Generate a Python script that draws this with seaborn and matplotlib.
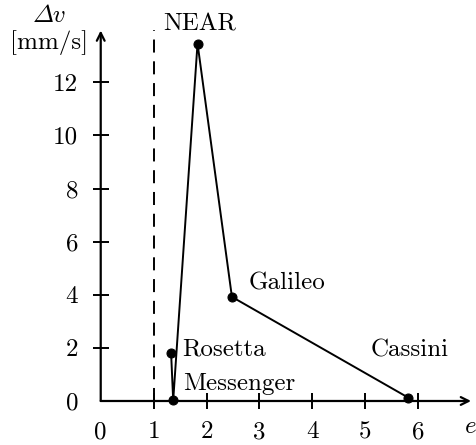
import pandas as pd
import seaborn as sns
import matplotlib.pyplot as plt

# flyby data
missions = ["Rosetta", "Messenger", "NEAR", "Galileo", "Cassini"]
ecc = [1.33, 1.37, 1.83, 2.48, 5.81]
dv = [1.82, 0.02, 13.46, 3.92, 0.13]

x_ticks = [1, 2, 3, 4, 5, 6]
y_ticks = [2, 4, 6, 8, 10, 12]

# label offsets (points) from each marker
label_offsets = {
    "Rosetta": (8, -2),
    "Messenger": (7, 7.4),
    "NEAR": (-25, 9.5),
    "Galileo": (12.2, 5.5),
    "Cassini": (-27, 29.7),
}

FS = 18

sns.set_theme(style="white", rc={"text.color": "black", "xtick.color": "black",
                                 "ytick.color": "black", "axes.labelcolor": "black"})
plt.rcParams["font.family"] = ["cmr10", "DejaVu Serif"]
plt.rcParams["mathtext.fontset"] = "cm"
plt.rcParams["axes.unicode_minus"] = False

df = pd.DataFrame({"mission": missions, "e": ecc, "dv": dv})

fig = plt.figure(figsize=(4.77, 4.45), dpi=100)
ax = fig.add_axes([0, 0, 1, 1])
ax.set_facecolor("white")

sns.lineplot(data=df, x="e", y="dv", sort=False, color="black", lw=1.4,
             marker="o", markersize=6.5, markeredgecolor="black", ax=ax)

# dashed line at e = 1
ax.plot([1, 1], [0, 13.97], color="black", lw=1.4, ls=(0, (6.7, 4.5)))

# axes with arrows
ax.annotate("", xy=(7.0, 0), xytext=(0, 0),
            arrowprops=dict(arrowstyle="->", lw=1.6, color="black",
                            shrinkA=0, shrinkB=0, mutation_scale=14))
ax.annotate("", xy=(0, 13.95), xytext=(0, 0),
            arrowprops=dict(arrowstyle="->", lw=1.6, color="black",
                            shrinkA=0, shrinkB=0, mutation_scale=14))

for s in ["top", "right"]:
    ax.spines[s].set_visible(False)
for s in ["left", "bottom"]:
    ax.spines[s].set_position(("data", 0))
    ax.spines[s].set_visible(False)

ax.set_xlim(-1.904, 7.113)
ax.set_ylim(-1.657, 15.098)

ax.set_xticks(x_ticks, labels=[str(t) for t in x_ticks])
ax.set_yticks(y_ticks, labels=[str(t) for t in y_ticks])
ax.set_xticks([0], labels=["0"], minor=True)
ax.set_yticks([0], labels=["0"], minor=True)
ax.xaxis.set_ticks_position("bottom")
ax.yaxis.set_ticks_position("left")
ax.tick_params(which="major", direction="inout", length=12.2, width=1.4,
               labelsize=FS, pad=8.3)
ax.tick_params(which="minor", length=0, labelsize=FS, pad=14.4)
ax.tick_params(axis="y", which="major", pad=10.2)
ax.tick_params(axis="y", which="minor", pad=16.3)
ax.set_xlabel("")
ax.set_ylabel("")

for name, x, y in zip(missions, ecc, dv):
    ax.annotate(name, (x, y), xytext=label_offsets[name], textcoords="offset points",
                ha="left", va="baseline", fontsize=FS)

# axis titles (cmmi10 gives the TeX math italic glyphs)
ax.text(6.99, -1.19, "e", family="cmmi10", ha="center", va="baseline", fontsize=FS)
ax.text(-0.98, 14.28, "\u00a2v", family="cmmi10", ha="center", va="baseline", fontsize=FS)
ax.text(-0.98, 13.25, "[mm/s]", ha="center", va="baseline", fontsize=FS)

fig.savefig("out.png", dpi=100)
